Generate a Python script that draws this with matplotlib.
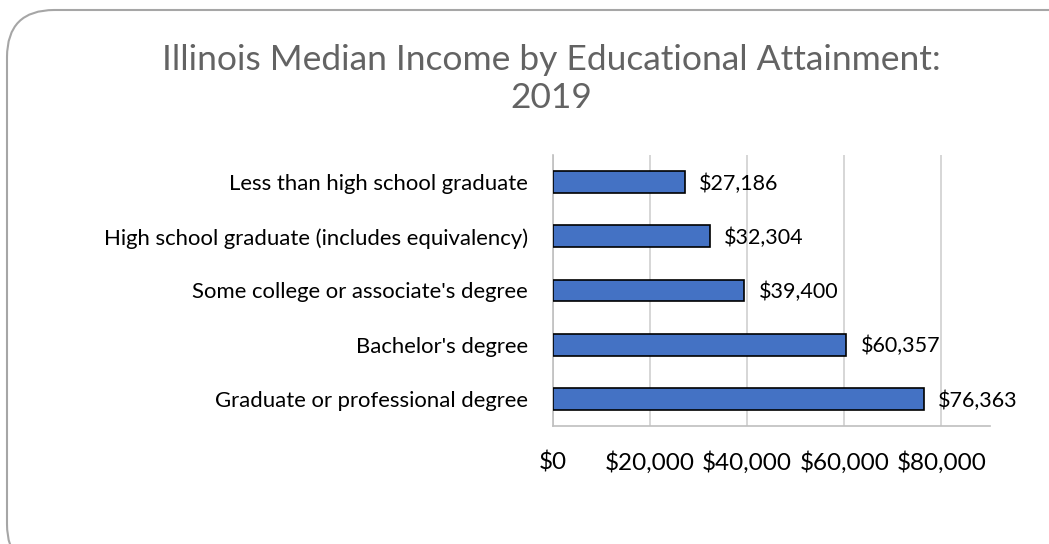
import matplotlib.pyplot as plt
from matplotlib.patches import FancyBboxPatch

# Data
categories = ["Less than high school graduate",
              "High school graduate (includes equivalency)",
              "Some college or associate's degree",
              "Bachelor's degree",
              "Graduate or professional degree"]
incomes = [27186, 32304, 39400, 60357, 76363]
tick_values = [0, 20000, 40000, 60000, 80000]
tick_labels = ["$0", "$20,000", "$40,000", "$60,000", "$80,000"]

plt.rcParams['font.family'] = ['Lato', 'DejaVu Sans']

fig = plt.figure(figsize=(10.49, 5.44), dpi=100)

# rounded frame around the chart (runs off the right and bottom edges)
frame = FancyBboxPatch((7 / 1049, -0.05), 1.1, 1.05 - 10 / 544,
                       boxstyle="round,pad=0,rounding_size=0.045",
                       transform=fig.transFigure, facecolor='none',
                       edgecolor='#a6a6a6', linewidth=1.5, zorder=0,
                       mutation_aspect=1049 / 544)
fig.patches.append(frame)

ax = fig.add_axes([0.5269, 0.2169, 0.4169, 0.4982])
ax.set_facecolor('none')

y = list(range(len(categories)))
ax.barh(y, incomes, height=0.4, color='#4472C4', edgecolor='black',
        linewidth=1.2, zorder=3)
ax.set_ylim(len(categories) - 0.5, -0.5)
ax.set_xlim(0, 90000)

for yi, v in zip(y, incomes):
    ax.text(v + 3000, yi + 0.03, f"${v:,}", va='center', ha='left',
            fontsize=15.5, color='black')

ax.set_xticks(tick_values)
ax.set_xticklabels(tick_labels, fontsize=17.5)
ax.tick_params(axis='x', length=0, pad=18)
ax.set_yticks(y)
ax.set_yticklabels(categories, fontsize=15.9)
ax.tick_params(axis='y', length=0, pad=18)

ax.grid(axis='x', color='#d0d0d0', linewidth=1.2, zorder=0)
for s in ['top', 'right']:
    ax.spines[s].set_visible(False)
ax.spines['left'].set_color('#bfbfbf')
ax.spines['bottom'].set_color('#bfbfbf')
ax.spines['left'].set_linewidth(1.2)
ax.spines['bottom'].set_linewidth(1.2)

fig.text(551 / 1049, 1 - 79 / 544,
         "Illinois Median Income by Educational Attainment:\n2019",
         ha='center', va='center', fontsize=25.5, color='#636363',
         linespacing=1.2)

plt.savefig('out.png', dpi=100)
